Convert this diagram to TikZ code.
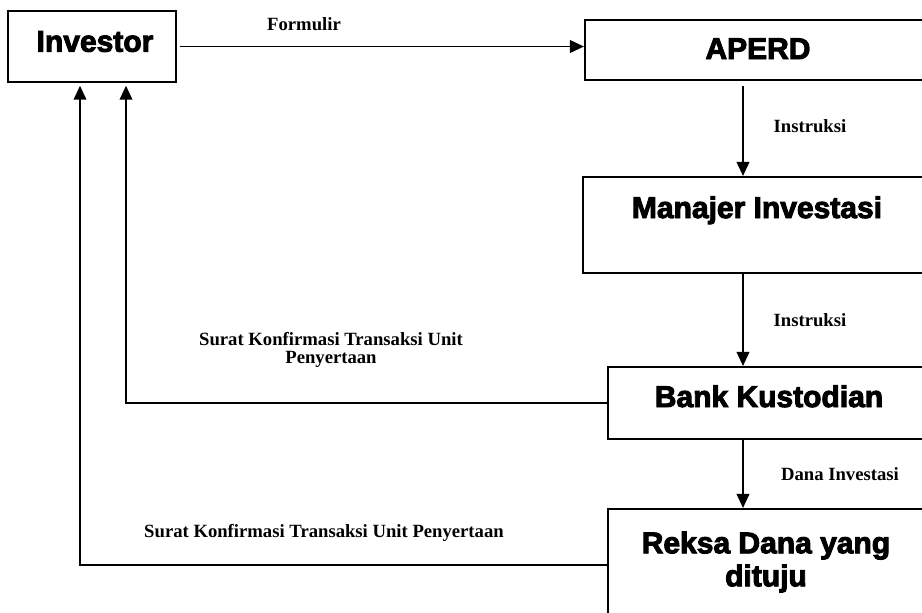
\documentclass[tikz,border=0pt]{standalone}
\usepackage{fontspec}
\setmainfont{Liberation Serif}
\newfontfamily\heavy{Liberation Sans Bold}[FakeBold=3.2]
\usetikzlibrary{arrows.meta}
\begin{document}
\begin{tikzpicture}[x=0.75pt,y=-0.75pt,
  box/.style={draw,line width=1.6pt,rectangle,inner sep=0pt},
  title/.style={font=\heavy\fontsize{22.5pt}{24.75pt}\selectfont,inner sep=0pt,align=center},
  lab/.style={font=\bfseries\fontsize{14pt}{13.5pt}\selectfont,inner sep=0pt,align=center},
  arr/.style={line width=1.3pt,-{Triangle[length=10.5pt,width=9.5pt]}},
  ln/.style={line width=1.3pt}]
\useasboundingbox (0,0) rectangle (922,612);
% boxes
\node[box,minimum width=126pt,minimum height=53.25pt] (inv) at (92,46.5) {};
\node[box,minimum width=262.5pt,minimum height=45pt] (aperd) at (760,50) {};
\node[box,minimum width=264pt,minimum height=72pt] (man) at (759,225) {};
\node[box,minimum width=243pt,minimum height=54pt] (bank) at (770,403) {};
\node[box,minimum width=243pt,minimum height=84pt] (reksa) at (770,565) {};
% box texts
\node[title,anchor=base] (tinv) at (95,51.7) {Investor};
\node[title,anchor=base] (taperd) at (758,59) {APERD};
\node[title,anchor=base] (tman) at (757,218) {Manajer Investasi};
\node[title,anchor=base] (tbank) at (769,407) {Bank Kustodian};
\node[title] (treksa) at (766,562) {Reksa Dana yang\\dituju};
% helper columns
\coordinate (xc) at (743,0);
\coordinate (xa) at (126,0);
\coordinate (xb) at (80,0);
% connectors
\draw[arr] ([xshift=2pt]inv.east) -- (inv.east -| aperd.west);
\draw[arr] ([yshift=-4pt]aperd.south -| xc) -- (man.north -| xc);
\draw[arr] (man.south -| xc) -- (bank.north -| xc);
\draw[arr] (bank.south -| xc) -- (reksa.north -| xc);
\draw[arr,shorten >=2pt] (bank.west) -| (xa |- inv.south);
\draw[arr,shorten >=2pt] (reksa.west) -| (xb |- inv.south);
% labels
\node[lab,anchor=base] (lf) at (304,30.7) {Formulir};
\node[lab,anchor=base] (li1) at (810,132) {Instruksi};
\node[lab,anchor=base] (li2) at (810,326) {Instruksi};
\node[lab,anchor=base] (ld) at (840,480) {Dana Investasi};
\node[lab] (ls1) at (331,350) {Surat Konfirmasi Transaksi Unit\\Penyertaan};
\node[lab,anchor=base] (ls2) at (324,537) {Surat Konfirmasi Transaksi Unit Penyertaan};
\end{tikzpicture}
\end{document}
